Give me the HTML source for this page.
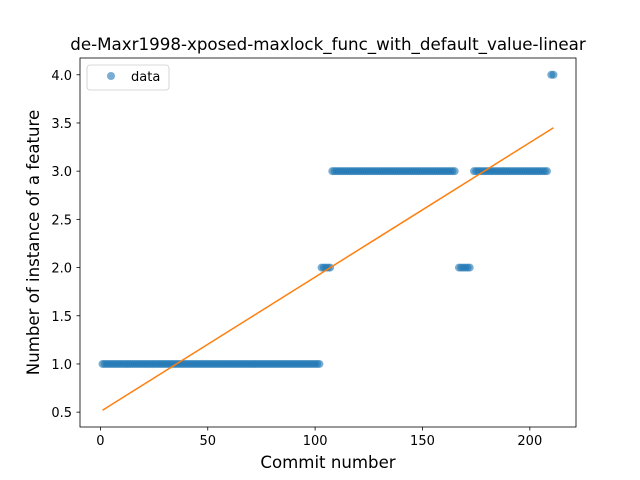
<!DOCTYPE html>
<html><head><meta charset="utf-8"><style>body{margin:0;background:#fff}svg{display:block;font-family:"DejaVu Sans","Liberation Sans",sans-serif}</style></head>
<body>
<svg id="chart" width="640" height="480"></svg>
<script>
const segStarts=[1,103,108,167,174,210];
const segEnds=[102,107,165,172,208,211];
const segValues=[1,2,3,2,3,4];
const fitX=[1,211];
const fitY=[0.52,3.45];
const xTicks=[0,50,100,150,200];
const yTicks=[0.5,1.0,1.5,2.0,2.5,3.0,3.5,4.0];
const NS='http://www.w3.org/2000/svg';
const svg=document.getElementById('chart');
const L=80,R=576,T=58,B=427,x0=-9.5,x1=221.5,y0=0.346,y1=4.174;
const X=v=>L+(v-x0)/(x1-x0)*(R-L);
const Y=v=>B-(v-y0)/(y1-y0)*(B-T);
function mk(t,a,p){const e=document.createElementNS(NS,t);for(const k in a)e.setAttribute(k,a[k]);(p||svg).appendChild(e);return e;}
const title=mk('text',{x:328,y:50,'text-anchor':'middle','font-size':16.7,fill:'#000'});title.textContent='de-Maxr1998-xposed-maxlock_func_with_default_value-linear';


const pts=mk('g',{});


for(let s=0;s<segStarts.length;s++){for(let i=segStarts[s];i<=segEnds[s];i++){const c=mk('circle',{cx:X(i),cy:Y(segValues[s]),r:4,fill:'#1f77b4','fill-opacity':0.6},pts);

}}
const fl=mk('line',{x1:X(fitX[0]),y1:Y(fitY[0]),x2:X(fitX[1]),y2:Y(fitY[1]),stroke:'#ff7f0e','stroke-width':1.5});


const fr=mk('rect',{x:L,y:T,width:R-L,height:B-T,fill:'none',stroke:'#000','stroke-width':0.8});


xTicks.forEach(v=>{mk('line',{x1:X(v),x2:X(v),y1:B,y2:B+3.5,stroke:'#000','stroke-width':0.8});const t=mk('text',{x:X(v),y:B+18,'text-anchor':'middle','font-size':13,fill:'#000'});t.textContent=v;

});
yTicks.forEach(v=>{mk('line',{x1:L-3.5,x2:L,y1:Y(v),y2:Y(v),stroke:'#000','stroke-width':0.8});const t=mk('text',{x:L-8,y:Y(v)+5,'text-anchor':'end','font-size':13,fill:'#000'});t.textContent=v.toFixed(1);

});
const xl=mk('text',{x:328,y:468,'text-anchor':'middle','font-size':16.6,fill:'#000'});xl.textContent='Commit number';


const yl=mk('text',{x:0,y:0,'text-anchor':'middle','font-size':16.6,fill:'#000',transform:`translate(39,${(T+B)/2}) rotate(-90)`});yl.textContent='Number of instance of a feature';


const lg=mk('g',{});


mk('rect',{x:87,y:65,width:82,height:25,rx:3,fill:'#fff',stroke:'#ccc','stroke-width':0.8},lg);
mk('circle',{cx:111,cy:76,r:4,fill:'#1f77b4','fill-opacity':0.6},lg);
const lt=mk('text',{x:131,y:81,'font-size':13,fill:'#000'},lg);lt.textContent='data';


</script>
</body></html>
